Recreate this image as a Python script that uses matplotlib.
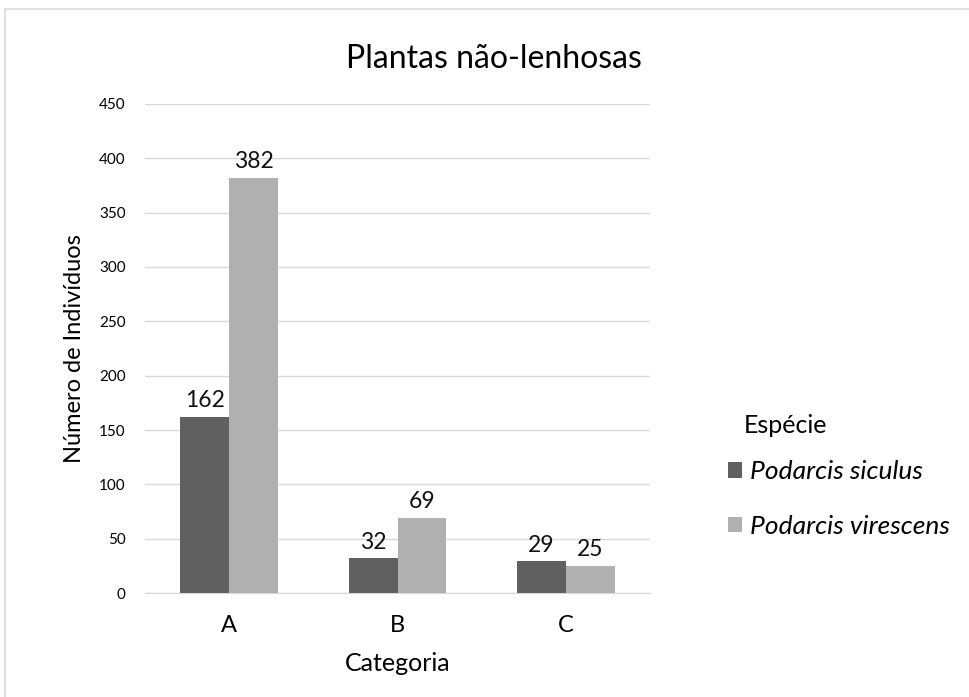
import numpy as np
import matplotlib.pyplot as plt
from matplotlib.patches import Rectangle

plt.rcParams['font.family'] = ['Lato', 'DejaVu Sans']

categorias = ['A', 'B', 'C']
especies = ['Podarcis siculus', 'Podarcis virescens']
siculus = [162, 32, 29]
virescens = [382, 69, 25]
cores = ['#606060', '#b0b0b0']

fig = plt.figure(figsize=(9.7, 6.97), dpi=100)
ax = fig.add_axes([0.1495, 0.1492, 0.5206, 0.7016])

x = np.arange(len(categorias))
w = 0.29
b1 = ax.bar(x - w / 2, siculus, w, color=cores[0], label=especies[0], zorder=3)
b2 = ax.bar(x + w / 2, virescens, w, color=cores[1], label=especies[1], zorder=3)

for barras in (b1, b2):
    for r in barras:
        ax.annotate(f'{r.get_height():.0f}', (r.get_x() + r.get_width() / 2, r.get_height()),
                    xytext=(0, 4), textcoords='offset points', ha='center', va='bottom',
                    fontsize=16.5, color='#111111')

ax.set_xlim(-0.5, 2.5)
ax.set_ylim(0, 450)
ax.set_yticks(range(0, 451, 50))
ax.set_xticks(x)
ax.set_xticklabels(categorias, fontsize=17)
ax.tick_params(axis='y', labelsize=11, length=0, pad=14)
ax.tick_params(axis='x', length=0, pad=16)
ax.grid(axis='y', color='#d9d9d9', linewidth=1, zorder=0)
for s in ['top', 'right', 'left']:
    ax.spines[s].set_visible(False)
ax.spines['bottom'].set_color('#d9d9d9')

ax.set_title('Plantas não-lenhosas', fontsize=23, pad=26, x=0.69)
ax.set_xlabel('Categoria', fontsize=18, labelpad=11)
ax.set_ylabel('Número de Indivíduos', fontsize=17, labelpad=10)

fig.text(0.767, 0.39, 'Espécie', fontsize=18, va='center')
leg = fig.legend(handles=[b1, b2], loc='center left', bbox_to_anchor=(0.726, 0.284),
                 frameon=False, prop={'style': 'italic', 'size': 19}, labelspacing=1.2,
                 handlelength=0.55, handleheight=0.55, handletextpad=0.3)

fig.patches.append(Rectangle((0.005, -0.01), 1.1, 0.997, transform=fig.transFigure,
                             fill=False, edgecolor='#d9d9d9', linewidth=1.2))

fig.savefig('out.png', dpi=100)
